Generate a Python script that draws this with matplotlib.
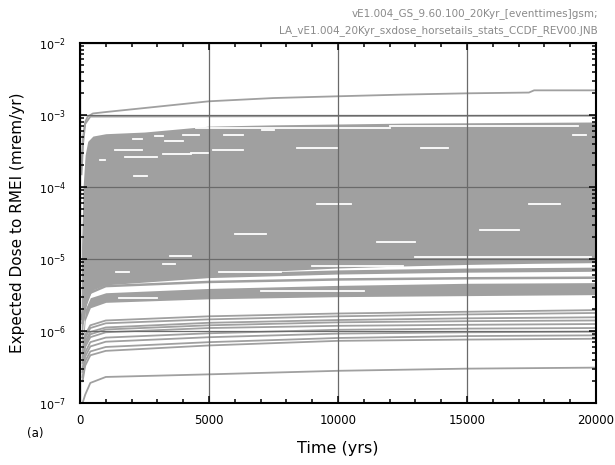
import numpy as np
import matplotlib
matplotlib.use("Agg")
import matplotlib.pyplot as plt
from matplotlib.ticker import LogLocator, MultipleLocator, NullFormatter

plt.rcParams['font.family'] = ['DejaVu Sans']

# === Data (dose in mrem/yr, time in yrs) ===
# dense horsetail band (upper and lower envelope)
band_t = [60, 120, 200, 300, 500, 1000, 2500, 5000, 7500, 10000, 12500, 15000, 17500, 20000]
band_hi = [1.5e-5, 1.0e-4, 2.8e-4, 4.3e-4, 5.1e-4, 5.5e-4, 5.8e-4, 7.0e-4, 7.3e-4, 7.5e-4, 7.7e-4, 7.8e-4, 7.9e-4, 8.0e-4]
band_lo = [5.0e-7, 1.2e-6, 2.0e-6, 2.8e-6, 3.8e-6, 4.8e-6, 5.3e-6, 6.0e-6, 6.8e-6, 7.5e-6, 8.0e-6, 8.4e-6, 8.7e-6, 8.9e-6]

# bundle of realizations just below the band
bundle_lo = [5.0e-7, 1.4e-6, 2.1e-6, 2.5e-6, 2.8e-6, 3.0e-6, 3.1e-6, 3.2e-6]
bundle_hi = [7.0e-7, 2.0e-6, 2.9e-6, 3.4e-6, 3.9e-6, 4.3e-6, 4.6e-6, 4.7e-6]

# individual realizations (values at line_t)
line_t = [100, 200, 400, 1000, 5000, 10000, 15000, 20000]
low_lines = [
    [1.0e-7, 1.3e-7, 1.9e-7, 2.3e-7, 2.5e-7, 2.8e-7, 3.0e-7, 3.1e-7],
    [2.0e-7, 3.3e-7, 4.6e-7, 5.3e-7, 6.3e-7, 7.3e-7, 7.6e-7, 7.8e-7],
    [2.3e-7, 3.8e-7, 5.2e-7, 6.0e-7, 7.0e-7, 8.0e-7, 8.5e-7, 8.7e-7],
    [2.7e-7, 4.4e-7, 6.1e-7, 7.1e-7, 8.2e-7, 9.2e-7, 9.6e-7, 9.8e-7],
    [3.0e-7, 5.0e-7, 7.0e-7, 8.1e-7, 9.3e-7, 1.04e-6, 1.08e-6, 1.1e-6],
    [3.6e-7, 6.0e-7, 8.2e-7, 9.6e-7, 1.1e-6, 1.18e-6, 1.22e-6, 1.25e-6],
    [4.0e-7, 6.6e-7, 9.0e-7, 1.05e-6, 1.2e-6, 1.32e-6, 1.37e-6, 1.4e-6],
    [4.3e-7, 7.2e-7, 9.7e-7, 1.12e-6, 1.3e-6, 1.42e-6, 1.5e-6, 1.55e-6],
    [4.8e-7, 8.0e-7, 1.1e-6, 1.28e-6, 1.45e-6, 1.6e-6, 1.7e-6, 1.78e-6],
    [5.3e-7, 8.8e-7, 1.2e-6, 1.4e-6, 1.6e-6, 1.75e-6, 1.85e-6, 1.95e-6],
    [1.3e-6, 2.2e-6, 3.4e-6, 4.2e-6, 4.8e-6, 5.2e-6, 5.4e-6, 5.5e-6],
    [1.5e-6, 2.6e-6, 3.8e-6, 4.6e-6, 5.8e-6, 6.5e-6, 6.9e-6, 7.1e-6],
]
low_widths = [1.3, 1.3, 1.3, 1.3, 1.3, 1.3, 1.3, 1.3, 1.3, 1.3, 1.8, 3.0]

# top two realizations
top_t = [60, 120, 200, 300, 500, 1000, 2500, 5000, 7500, 10000, 12500, 15000, 17400, 17600, 20000]
top_rising = [2e-4, 5e-4, 8e-4, 9.5e-4, 1.05e-3, 1.1e-3, 1.25e-3, 1.55e-3, 1.72e-3, 1.82e-3, 1.92e-3, 2.0e-3, 2.05e-3, 2.2e-3, 2.2e-3]
flat_t = [60, 120, 200, 400, 20000]
top_flat = [1.5e-4, 4.0e-4, 7.5e-4, 9.5e-4, 9.8e-4]

# white gaps between realizations inside the band: start, end, level
gap_t0 = [780, 1360, 1740, 3200, 4300, 5150, 2050, 2900, 3300, 4000, 5600, 7050, 8400, 13200, 19100,
          4500, 12000, 9200, 17400, 6000, 11500, 15500, 2100,
          3500, 3200, 1400, 5400, 9000, 13000, 1500, 7000]
gap_t1 = [970, 2400, 3000, 4300, 5000, 6300, 2400, 3200, 4000, 4600, 6300, 7500, 10000, 14250, 19600,
          12000, 19300, 10500, 18600, 7200, 13000, 17000, 2600,
          4300, 3700, 1900, 7800, 12500, 19800, 3000, 11000]
gap_lvl = [2.4e-4, 3.3e-4, 2.6e-4, 2.9e-4, 3.0e-4, 3.3e-4, 4.6e-4, 5.1e-4, 4.3e-4, 5.2e-4, 5.3e-4, 6.2e-4, 3.5e-4, 3.5e-4, 5.3e-4,
           6.5e-4, 7.0e-4, 5.8e-5, 5.8e-5, 2.2e-5, 1.7e-5, 2.5e-5, 1.4e-4,
           1.1e-5, 8.4e-6, 6.5e-6, 6.5e-6, 8.0e-6, 1.05e-5, 2.9e-6, 3.6e-6]

# === Plot ===
GRAY = '#a0a0a0'
fig = plt.figure(figsize=(6.15, 4.65), dpi=100)
ax = fig.add_axes([80 / 615, 1 - 403 / 465, 516 / 615, 360 / 465])

ax.fill_between(band_t, band_lo, band_hi, color=GRAY, lw=0, zorder=2)
ax.fill_between(line_t, bundle_lo, bundle_hi, color=GRAY, lw=0, zorder=2)
for vals, lw in zip(low_lines, low_widths):
    ax.plot(line_t, vals, color=GRAY, lw=lw, zorder=2)
ax.plot(top_t, top_rising, color=GRAY, lw=1.3, zorder=2)
ax.plot(flat_t, top_flat, color=GRAY, lw=1.3, zorder=2)
for t0, t1, v in zip(gap_t0, gap_t1, gap_lvl):
    ax.plot([t0, t1], [v, v], color='white', lw=1.3, zorder=2.5)

ax.set_yscale('log')
ax.set_xlim(0, 20000)
ax.set_ylim(1e-7, 1e-2)
ax.xaxis.set_major_locator(MultipleLocator(5000))
ax.xaxis.set_minor_locator(MultipleLocator(1000))
ax.yaxis.set_major_locator(LogLocator(base=10, numticks=10))
ax.yaxis.set_minor_locator(LogLocator(base=10, subs=np.arange(2, 10), numticks=20))
ax.yaxis.set_minor_formatter(NullFormatter())

ax.grid(True, which='major', color='#6a6a6a', lw=0.9, zorder=3)
ax.set_axisbelow(False)
ax.tick_params(which='both', direction='in', top=True, right=True, width=1.1, colors='black')
ax.tick_params(which='major', length=5, labelsize=8.5, pad=8)
ax.tick_params(which='minor', length=3)
ax.tick_params(axis='y', which='major', labelsize=8, pad=10)
for sp in ax.spines.values():
    sp.set_linewidth(1.5)
    sp.set_zorder(4)

ax.set_xlabel("Time (yrs)", fontsize=11.5, labelpad=10)
ax.set_ylabel("Expected Dose to RMEI (mrem/yr)", fontsize=11, labelpad=10)

fig.text(598 / 615, 1 - 14 / 465, "vE1.004_GS_9.60.100_20Kyr_[eventtimes]gsm;",
         ha='right', va='center', fontsize=7.5, color='#8a8a8a')
fig.text(598 / 615, 1 - 31 / 465, "LA_vE1.004_20Kyr_sxdose_horsetails_stats_CCDF_REV00.JNB",
         ha='right', va='center', fontsize=7.5, color='#8a8a8a')
fig.text(35 / 615, 1 - 433 / 465, "(a)", ha='center', va='center', fontsize=8.5)

fig.savefig("out.png", dpi=100)
